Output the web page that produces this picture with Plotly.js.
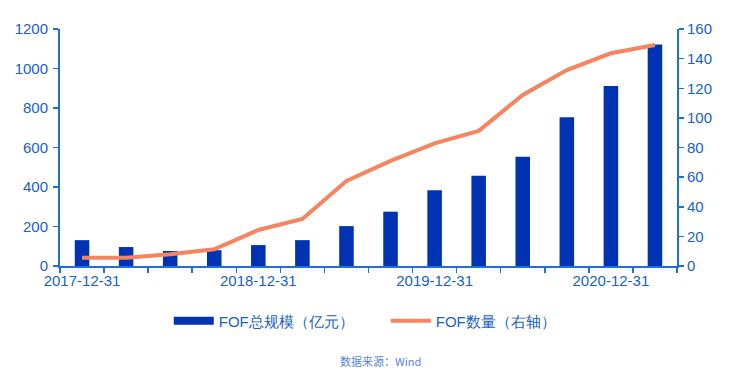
<!DOCTYPE html>
<html>
<head>
<meta charset="utf-8">
<script src="https://cdn.plot.ly/plotly-3.0.1.min.js"></script>
<style>html,body{margin:0;padding:0;background:#fff;}#chart{width:747px;height:381px;}</style>
</head>
<body>
<div id="chart"></div>
<script>
const categories = ["2017-12-31","2018-03-31","2018-06-30","2018-09-30","2018-12-31","2019-03-31","2019-06-30","2019-09-30","2019-12-31","2020-03-31","2020-06-30","2020-09-30","2020-12-31","2021-03-31"];
const fofScale = [131, 96, 76, 80, 106, 131, 202, 275, 383, 457, 553, 753, 911, 1122];
const fofCount = [5.6, 5.6, 7.9, 11.3, 24.3, 31.7, 57.4, 71, 82.8, 91.2, 115.5, 132.3, 143.6, 149.2];
const tickLabels = ["2017-12-31","","","","2018-12-31","","","","2019-12-31","","","","2020-12-31",""];
const seriesNames = ["FOF总规模（亿元）", "FOF数量（右轴）"];
const sourceText = "数据来源：Wind";

const barColor = "#0033B4";
const lineColor = "#F5845F";
const axisColor = "#1E70D8";
const textColor = "#1A5FC4";

const traces = [
  {type:"bar", x:categories, y:fofScale, marker:{color:barColor}, width:0.33, showlegend:false, yaxis:"y", hoverinfo:"skip"},
  {type:"scatter", mode:"lines", x:categories, y:fofCount, line:{color:lineColor, width:4}, showlegend:false, yaxis:"y2", hoverinfo:"skip"},
  {type:"scatter", mode:"lines", x:[null], y:[null], name:seriesNames[0], line:{color:barColor, width:8}, yaxis:"y"},
  {type:"scatter", mode:"lines", x:[null], y:[null], name:seriesNames[1], line:{color:lineColor, width:4}, yaxis:"y2"}
];

const layout = {
  width:747, height:381,
  margin:{l:60, r:70, t:29, b:115},
  paper_bgcolor:"#fff", plot_bgcolor:"#fff",
  font:{family:"Liberation Sans, Arial, sans-serif", size:15, color:textColor},
  bargap:0.5,
  xaxis:{
    type:"category", range:[-0.5, 13.5],
    tickmode:"array", tickvals:categories, ticktext:tickLabels, tickangle:0,
    tickson:"boundaries", ticks:"outside", ticklen:5, tickcolor:axisColor, tickwidth:1.5,
    showline:true, linecolor:axisColor, linewidth:2, showgrid:false, zeroline:false,
    tickfont:{size:15, color:textColor}, fixedrange:true
  },
  yaxis:{
    range:[0,1200], dtick:200, tick0:0,
    ticks:"outside", ticklen:5, tickcolor:axisColor, tickwidth:1.5,
    showline:true, linecolor:axisColor, linewidth:2, showgrid:false, zeroline:false,
    tickfont:{size:15, color:textColor}, ticklabelstandoff:2
  },
  yaxis2:{
    overlaying:"y", side:"right", range:[0,160], dtick:20, tick0:0,
    ticks:"outside", ticklen:5, tickcolor:axisColor, tickwidth:1.5,
    showline:true, linecolor:axisColor, linewidth:2, showgrid:false, zeroline:false,
    tickfont:{size:15, color:textColor}
  },
  legend:{
    orientation:"h", x:0.528, xanchor:"center", y:-0.232, yanchor:"middle",
    font:{size:15, color:textColor}, itemwidth:40, traceorder:"normal",
    entrywidth:162, entrywidthmode:"pixels",
    bgcolor:"rgba(0,0,0,0)"
  },
  annotations:[{
    text:sourceText, xref:"paper", yref:"paper", x:0.52, y:-0.40,
    xanchor:"center", yanchor:"middle", showarrow:false,
    font:{family:"Noto Sans CJK SC, sans-serif", size:11, color:"#5A86D6"}
  }],
  showlegend:true
};

Plotly.newPlot("chart", traces, layout, {displayModeBar:false, staticPlot:true});
</script>
</body>
</html>
